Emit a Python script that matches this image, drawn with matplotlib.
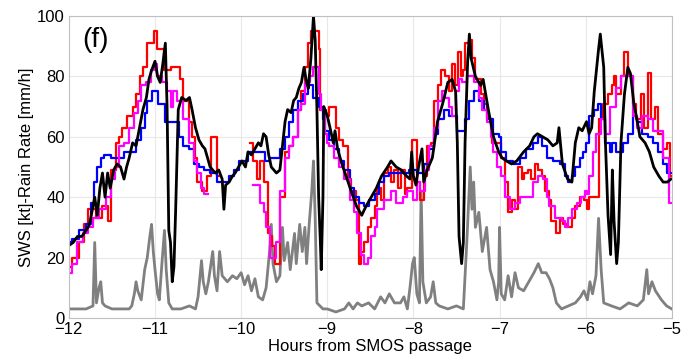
import numpy as np
import matplotlib
matplotlib.use("Agg")
import matplotlib.pyplot as plt

plt.rcParams['font.family'] = ['Liberation Sans', 'DejaVu Sans']

# in-situ wind speed (kt), hours from SMOS passage
black_t = [-12.00, -11.95, -11.90, -11.85, -11.80, -11.76, -11.74, -11.70, -11.67, -11.64,
           -11.61, -11.58, -11.55, -11.52, -11.48, -11.44, -11.40, -11.36, -11.33, -11.30,
           -11.26, -11.22, -11.18, -11.14, -11.10, -11.07, -11.04, -11.00, -10.97, -10.94,
           -10.91, -10.88, -10.86, -10.84, -10.82, -10.80, -10.78, -10.76, -10.73, -10.69,
           -10.64, -10.60, -10.57, -10.53, -10.49, -10.45, -10.42, -10.38, -10.36, -10.30,
           -10.26, -10.22, -10.20, -10.18, -10.14, -10.10, -10.07, -10.03, -9.99, -9.95,
           -9.92, -9.88, -9.84, -9.80, -9.77, -9.74, -9.71, -9.68, -9.65, -9.62,
           -9.59, -9.55, -9.52, -9.49, -9.46, -9.42, -9.39, -9.36, -9.33, -9.30,
           -9.27, -9.24, -9.22, -9.19, -9.16, -9.14, -9.12, -9.10, -9.08, -9.07,
           -9.05, -9.04, -9.00, -8.96, -8.93, -8.91, -8.88, -8.83, -8.77, -8.71,
           -8.66, -8.62, -8.60, -8.55, -8.49, -8.43, -8.37, -8.30, -8.26, -8.20,
           -8.14, -8.08, -8.04, -8.02, -8.00, -7.97, -7.94, -7.90, -7.88, -7.84,
           -7.78, -7.72, -7.66, -7.60, -7.55, -7.51, -7.49, -7.47, -7.44, -7.42,
           -7.40, -7.37, -7.35, -7.33, -7.28, -7.22, -7.19, -7.13, -7.07, -7.01,
           -6.97, -6.92, -6.86, -6.80, -6.72, -6.65, -6.60, -6.56, -6.50, -6.44,
           -6.38, -6.33, -6.31, -6.27, -6.21, -6.16, -6.12, -6.08, -6.04, -5.99,
           -5.96, -5.93, -5.90, -5.85, -5.83, -5.79, -5.77, -5.74, -5.71, -5.69,
           -5.67, -5.64, -5.62, -5.59, -5.55, -5.51, -5.48, -5.44, -5.40, -5.37,
           -5.31, -5.26, -5.21, -5.15, -5.10, -5.05, -5.01]
black_v = [24, 25, 27, 27, 29, 31, 34, 40, 34, 43,
           48, 40, 48, 43, 49, 51, 50, 46, 50, 53,
           58, 57, 63, 69, 73, 79, 82, 85, 80, 78,
           84, 91, 70, 29, 25, 12, 17, 36, 69, 73,
           72, 73, 69, 63, 59, 57, 56, 52, 50, 48,
           49, 46, 36, 44, 45, 47, 48, 50, 52, 50,
           55, 54, 56, 58, 57, 61, 60, 54, 50, 49,
           48, 49, 57, 65, 69, 68, 72, 73, 76, 78,
           83, 78, 76, 86, 100, 92, 69, 40, 25, 16,
           40, 70, 67, 62, 58, 62, 56, 51, 46, 41,
           37, 35, 34, 37, 40, 43, 47, 50, 52, 50,
           49, 47, 46, 55, 47, 44, 50, 56, 45, 49,
           53, 65, 71, 78, 79, 75, 58, 27, 18, 25,
           58, 85, 94, 86, 80, 77, 79, 69, 60, 55,
           53, 52, 51, 52, 55, 57, 60, 61, 60, 59,
           57, 58, 63, 51, 46, 45, 58, 63, 62, 65,
           61, 63, 75, 89, 94, 83, 58, 34, 21, 49,
           32, 18, 25, 58, 74, 83, 81, 71, 65, 60,
           58, 55, 50, 47, 45, 45, 46]

# stepped retrieval series: start time of each step and its value
red_t = [-12.00, -11.96, -11.88, -11.82, -11.78, -11.69, -11.61, -11.55, -11.51, -11.45,
         -11.42, -11.38, -11.32, -11.26, -11.22, -11.18, -11.14, -11.09, -11.01, -10.98,
         -10.90, -10.82, -10.71, -10.67, -10.61, -10.57, -10.54, -10.51, -10.45, -10.40,
         -10.35, -10.28, -10.24,
         -9.90, -9.86, -9.82, -9.78, -9.74, -9.69, -9.66, -9.64, -9.61, -9.55,
         -9.49, -9.45, -9.40, -9.34, -9.30, -9.26, -9.22, -9.19, -9.10, -9.08,
         -9.01, -8.98, -8.90, -8.86, -8.82, -8.76, -8.72, -8.67, -8.63, -8.61,
         -8.57, -8.53, -8.49, -8.45, -8.42, -8.38, -8.34, -8.30, -8.26, -8.22,
         -8.18, -8.14, -8.10, -8.07, -8.02, -7.96, -7.92, -7.88, -7.84, -7.80,
         -7.76, -7.72, -7.68, -7.63, -7.59, -7.55, -7.52, -7.48, -7.45, -7.42,
         -7.40, -7.36, -7.32, -7.28, -7.22, -7.18, -7.14, -7.09, -6.98, -6.94,
         -6.90, -6.86, -6.82, -6.78, -6.74, -6.71, -6.67, -6.63, -6.59, -6.55,
         -6.51, -6.47, -6.43, -6.40, -6.34, -6.30, -6.26, -6.22, -6.16, -6.12,
         -6.07, -6.02, -5.99, -5.96, -5.84, -5.80, -5.74, -5.69, -5.67, -5.65,
         -5.59, -5.55, -5.51, -5.45, -5.41, -5.36, -5.32, -5.28, -5.24, -5.20,
         -5.16, -5.10, -5.05, -5.02, -5.00]
red_v = [17, 20, 25, 31, 36, 33, 37, 32, 49, 58,
         60, 63, 67, 70, 74, 80, 83, 91, 95, 89,
         82, 83, 79, 72, 65, 60, 53, 45, 42, 47,
         60, 47, np.nan,
         58, 52, 46, 52, 45, 28, 27, 24, 18, 40,
         55, 57, 60, 69, 75, 83, 91, 95, 89, 69,
         67, 70, 63, 59, 57, 46, 42, 39, 18, 22,
         25, 30, 33, 37, 43, 39, 48, 50, 45, 49,
         43, 49, 41, 43, 59, 45, 39, 47, 57, 58,
         72, 77, 82, 80, 75, 84, 77, 88, 80, 82,
         91, 92, 86, 79, 74, 71, 66, 58, 53, 45,
         35, 39, 36, 50, 46, 48, 49, 46, 51, 49,
         47, 42, 39, 32, 28, 33, 31, 30, 33, 37,
         40, 39, 36, 40, 66, 71, 74, 77, 80, 74,
         80, 88, 80, 71, 66, 74, 63, 81, 66, 70,
         61, 56, 58, 47, 47]

blue_t = [-12.00, -11.96, -11.88, -11.80, -11.74, -11.71, -11.67, -11.63, -11.59, -11.51,
          -11.36, -11.22, -11.16, -11.12, -11.09, -11.03, -10.96, -10.88, -10.72, -10.67,
          -10.61, -10.55, -10.49, -10.43, -10.36, -10.28, -10.14, -10.08, -10.03, -9.92,
          -9.72, -9.67, -9.55, -9.49, -9.45, -9.40, -9.34, -9.28, -9.22, -9.16,
          -9.10, -9.05, -9.03, -8.98, -8.92, -8.86, -8.80, -8.74, -8.69, -8.63,
          -8.57, -8.51, -8.45, -8.40, -8.34, -8.28, -8.05, -7.96, -7.88, -7.82,
          -7.76, -7.71, -7.65, -7.59, -7.49, -7.40, -7.35, -7.30, -7.24, -7.18,
          -7.13, -7.07, -7.01, -6.98, -6.92, -6.84, -6.76, -6.69, -6.61, -6.55,
          -6.51, -6.45, -6.38, -6.30, -6.24, -6.20, -6.16, -6.12, -6.07, -6.03,
          -6.00, -5.96, -5.90, -5.86, -5.82, -5.78, -5.72, -5.69, -5.65, -5.57,
          -5.51, -5.45, -5.40, -5.34, -5.28, -5.22, -5.16, -5.10, -5.05, -5.00]
blue_v = [25, 26, 29, 31, 38, 45, 50, 53, 54, 53,
          55, 59, 63, 68, 72, 75, 71, 65, 60, 57,
          56, 51, 50, 49, 48, 45, 47, 49, 52, 55,
          52, 53, 56, 60, 65, 69, 72, 74, 77, 73,
          70, 66, 62, 59, 56, 52, 49, 43, 40, 38,
          37, 39, 41, 45, 47, 48, 49, 48, 51, 56,
          61, 66, 69, 67, 62, 66, 72, 75, 72, 69,
          66, 61, 60, 55, 52, 51, 53, 56, 58, 60,
          57, 53, 52, 51, 47, 45, 47, 50, 53, 55,
          58, 67, 69, 71, 66, 58, 55, 58, 55, 58,
          61, 67, 65, 61, 60, 58, 55, 51, 48, 48]

magenta_t = [-12.00, -11.96, -11.90, -11.84, -11.78, -11.72, -11.65, -11.57, -11.51, -11.47,
             -11.42, -11.36, -11.30, -11.24, -11.20, -11.16, -11.10, -11.05, -11.01, -10.98,
             -10.92, -10.86, -10.82, -10.79, -10.74, -10.67, -10.61, -10.55, -10.51, -10.47,
             -10.43, -10.38,
             -9.86, -9.78, -9.74, -9.71, -9.67, -9.59, -9.55, -9.49, -9.45, -9.40,
             -9.34, -9.30, -9.26, -9.20, -9.16, -9.10, -9.07, -9.03, -9.00, -8.98,
             -8.92, -8.86, -8.80, -8.74, -8.69, -8.65, -8.61, -8.57, -8.53, -8.49,
             -8.45, -8.42, -8.34, -8.26, -8.20, -8.12, -8.07, -8.01, -7.96, -7.92,
             -7.86, -7.82, -7.76, -7.71, -7.67, -7.63, -7.59, -7.55, -7.51, -7.47,
             -7.43, -7.38, -7.30, -7.24, -7.20, -7.14, -7.10, -7.07, -7.03, -6.98,
             -6.94, -6.88, -6.82, -6.76, -6.61, -6.55, -6.49, -6.45, -6.42, -6.36,
             -6.28, -6.24, -6.20, -6.16, -6.10, -6.05, -6.01, -5.99, -5.96, -5.92,
             -5.88, -5.82, -5.78, -5.72, -5.65, -5.59, -5.45, -5.40, -5.34, -5.28,
             -5.22, -5.16, -5.10, -5.03, -5.00]
magenta_v = [15, 18, 25, 28, 30, 33, 36, 40, 46, 50,
             57, 58, 63, 68, 72, 77, 78, 82, 84, 80,
             78, 75, 70, 75, 72, 66, 58, 52, 48, 43,
             41, np.nan,
             44, 38, 35, 30, 20, 25, 42, 53, 57, 60,
             69, 71, 78, 80, 83, 74, 69, 61, 58, 57,
             53, 50, 46, 39, 35, 28, 21, 18, 20, 27,
             30, 36, 39, 42, 38, 40, 42, 39, 45, 42,
             49, 57, 63, 72, 75, 73, 70, 67, 75, 79,
             78, 80, 78, 73, 69, 65, 60, 55, 50, 47,
             40, 36, 38, 40, 45, 47, 46, 40, 37, 33,
             32, 30, 33, 36, 38, 40, 42, 41, 47, 55,
             61, 66, 61, 70, 76, 80, 67, 63, 67, 66,
             62, 62, 53, 38, 38]

# rain rate (mm/h)
rain_t = [-12.00, -11.90, -11.80, -11.72, -11.70, -11.68, -11.65, -11.63, -11.61, -11.58,
          -11.50, -11.40, -11.30, -11.27, -11.24, -11.22, -11.20, -11.16, -11.12, -11.09,
          -11.06, -11.04, -11.02, -11.00, -10.97, -10.95, -10.92, -10.89, -10.87, -10.84,
          -10.80, -10.70, -10.60, -10.53, -10.50, -10.46, -10.44, -10.41, -10.38, -10.33,
          -10.31, -10.28, -10.25, -10.22, -10.16, -10.10, -10.05, -10.00, -9.96, -9.92,
          -9.88, -9.84, -9.80, -9.75, -9.71, -9.67, -9.65, -9.63, -9.59, -9.55,
          -9.52, -9.50, -9.46, -9.43, -9.38, -9.36, -9.32, -9.29, -9.26, -9.24,
          -9.21, -9.18, -9.16, -9.14, -9.12, -9.05, -9.00, -8.90, -8.80, -8.75,
          -8.70, -8.65, -8.60, -8.52, -8.45, -8.38, -8.33, -8.28, -8.22, -8.15,
          -8.11, -8.07, -8.04, -8.01, -7.99, -7.96, -7.93, -7.91, -7.89, -7.85,
          -7.80, -7.77, -7.74, -7.70, -7.60, -7.50, -7.42, -7.38, -7.34, -7.32,
          -7.30, -7.28, -7.24, -7.20, -7.15, -7.11, -7.07, -7.03, -7.01, -7.00,
          -6.98, -6.94, -6.90, -6.86, -6.82, -6.78, -6.72, -6.66, -6.60, -6.55,
          -6.51, -6.46, -6.42, -6.38, -6.34, -6.28, -6.20, -6.12, -6.06, -6.02,
          -5.98, -5.95, -5.92, -5.88, -5.85, -5.82, -5.79, -5.70, -5.60, -5.50,
          -5.40, -5.33, -5.29, -5.27, -5.23, -5.19, -5.12, -5.06, -5.00]
rain_v = [3, 3, 3, 4, 25, 5, 10, 12, 5, 4,
          3, 3, 3, 4, 8, 12, 9, 6, 16, 20,
          27, 31, 22, 16, 8, 6, 18, 29, 16, 5,
          3, 3, 4, 3, 7, 19, 12, 8, 12, 22,
          14, 9, 22, 14, 12, 14, 13, 15, 11, 14,
          9, 13, 7, 6, 10, 22, 31, 18, 12, 14,
          30, 19, 25, 16, 28, 18, 31, 22, 30, 18,
          31, 42, 52, 33, 5, 3, 3, 2, 3, 5,
          3, 5, 4, 5, 3, 7, 5, 8, 5, 5,
          7, 3, 10, 18, 20, 8, 5, 42, 12, 5,
          7, 12, 5, 4, 3, 4, 3, 25, 50, 36,
          45, 30, 35, 22, 30, 16, 12, 6, 12, 30,
          8, 6, 14, 7, 15, 10, 9, 12, 15, 18,
          15, 15, 13, 10, 5, 3, 4, 5, 7, 9,
          6, 12, 8, 14, 33, 16, 5, 4, 3, 5,
          4, 6, 16, 8, 12, 9, 6, 4, 3]

fig = plt.figure(figsize=(6.82, 3.63), dpi=100)
ax = fig.add_axes([0.101, 0.124, 0.884, 0.832])

ax.plot(rain_t, rain_v, color='#808080', lw=2.0)
ax.plot(red_t, red_v, color='#ff0000', lw=1.6, drawstyle='steps-post')
ax.plot(blue_t, blue_v, color='#0000ff', lw=1.6, drawstyle='steps-post')
ax.plot(magenta_t, magenta_v, color='#ff00ff', lw=1.6, drawstyle='steps-post')
ax.plot(black_t, black_v, color='black', lw=2.0)

ax.set_xlim(-12, -5)
ax.set_ylim(0, 100)
ax.set_xticks(range(-12, -4))
ax.set_yticks(range(0, 101, 20))
ax.tick_params(length=0, labelsize=12, pad=3)
ax.grid(True, color='#e8e8e8', lw=0.8)
ax.set_axisbelow(True)
for s in ax.spines.values():
    s.set_color('#c0c0c0')

ax.set_xlabel('Hours from SMOS passage', fontsize=12, labelpad=1)
ax.set_ylabel('SWS [kt]-Rain Rate [mm/h]', fontsize=12, labelpad=2)
ax.text(0.022, 0.965, '(f)', transform=ax.transAxes, fontsize=20, va='top')

fig.savefig('out.png', dpi=100)
